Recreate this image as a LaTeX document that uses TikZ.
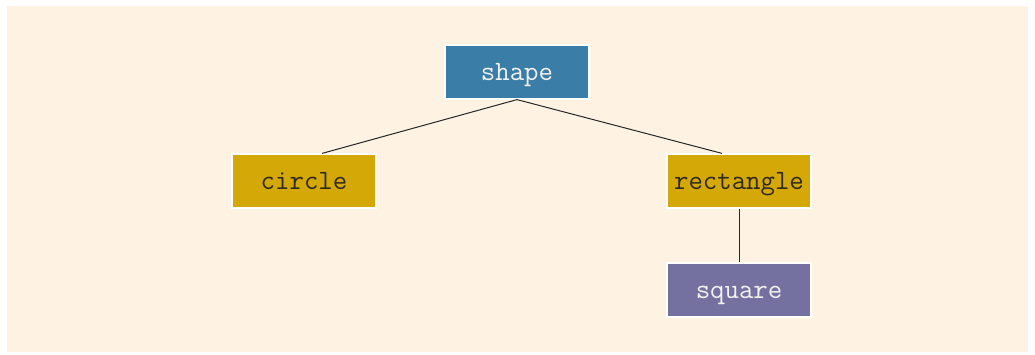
\documentclass[tikz,border=0pt]{standalone}
\usepackage{fontspec}
\definecolor{bgc}{HTML}{FEF2E3}
\definecolor{blu}{HTML}{3A7DA6}
\definecolor{gld}{HTML}{D4A807}
\definecolor{prp}{HTML}{74709F}
\definecolor{dtxt}{HTML}{2E2A20}
\definecolor{ltxt}{HTML}{F2F2F2}
\tikzset{
  box/.style={draw=white, line width=1.2pt, minimum width=144pt, minimum height=54pt, inner sep=0pt,
    text height=17pt, text depth=1pt, font=\fontsize{28}{32}\selectfont\ttfamily},
  bluebox/.style={box, fill=blu, text=ltxt},
  goldbox/.style={box, fill=gld, text=dtxt},
  purplebox/.style={box, fill=prp, text=ltxt},
  link/.style={draw=black!85, line width=1pt}
}
\begin{document}
\begin{tikzpicture}[x=1pt,y=-1pt]
\useasboundingbox (0,0) rectangle (1035,354);
\fill[white] (0,0) rectangle (1035,354);
\fill[bgc] (7,6) rectangle (1028,352);
\node[bluebox] (shape) at (517,72) {shape};
\node[goldbox] (circle) at (304,181) {circle};
\node[goldbox] (rect) at (739,181) {rectangle};
\node[purplebox] (square) at (739,290) {square};
\draw[link] (shape.south) -- ([xshift=18pt]circle.north);
\draw[link] (shape.south) -- ([xshift=-17pt]rect.north);
\draw[link] (rect.south) -- (square.north);
\end{tikzpicture}
\end{document}
